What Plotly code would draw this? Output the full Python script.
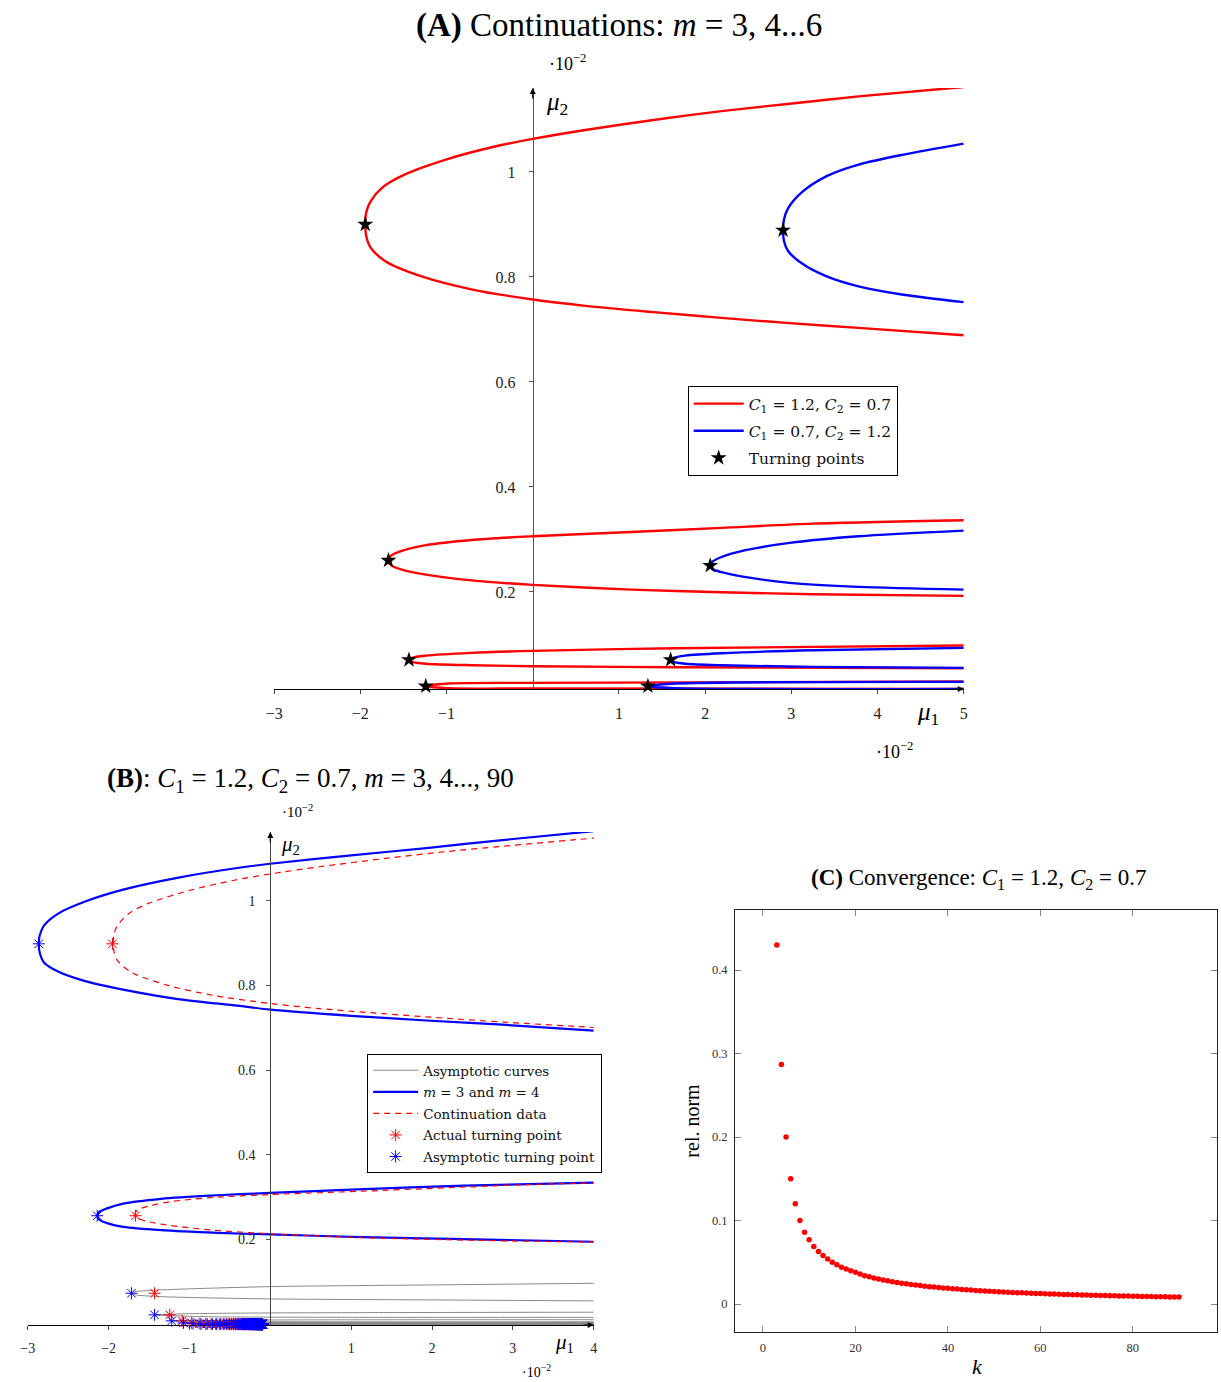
import plotly.graph_objects as go

W, H = 1221, 1382
RED = "#ff0000"
BLUE = "#0000ff"
GRAY = "#8a8a8a"
FONT = "Liberation Serif"
LEGEND_FONT = "DejaVu Serif"

# ---------------- Panel A: continuation branches (upper end -> fold -> lower end) ----------------
A_RED_M3_MU1 = [5.0, 3.78, 2.98, 2.19, 1.40, 0.61, 0.0, -0.45, -0.98, -1.50, -1.74, -1.885, -1.933, -1.943,
                -1.933, -1.885, -1.71, -1.27, -0.70, 0.0, 0.61, 1.40, 2.19, 2.98, 3.78, 5.0]
A_RED_M3_MU2 = [1.162, 1.144, 1.130, 1.116, 1.099, 1.080, 1.063, 1.048, 1.025, 0.994, 0.971, 0.943, 0.922, 0.900,
                0.879, 0.857, 0.830, 0.800, 0.776, 0.757, 0.745, 0.733, 0.722, 0.712, 0.703, 0.689]
A_BLUE_M3_MU1 = [5.0, 4.30, 3.78, 3.41, 3.12, 2.96, 2.914, 2.904, 2.914, 2.96, 3.12, 3.41, 3.78, 4.30, 5.0]
A_BLUE_M3_MU2 = [1.054, 1.033, 1.014, 0.992, 0.961, 0.930, 0.909, 0.889, 0.869, 0.850, 0.826, 0.801, 0.782, 0.766, 0.752]

A_RED_M4_MU1 = [5.0, 3.25, 2.19, 1.14, 0.0, -0.71, -1.24, -1.50, -1.64, -1.674, -1.64, -1.50, -1.24, -0.71, 0.0,
                1.14, 2.19, 3.25, 5.0]
A_RED_M4_MU2 = [0.3365, 0.330, 0.322, 0.314, 0.306, 0.299, 0.289, 0.279, 0.2695, 0.260, 0.2505, 0.2415, 0.233,
                0.222, 0.2133, 0.2044, 0.1994, 0.1956, 0.1924]
A_BLUE_M4_MU1 = [5.0, 3.78, 2.98, 2.455, 2.19, 2.085, 2.059, 2.085, 2.19, 2.455, 2.98, 3.78, 5.0]
A_BLUE_M4_MU2 = [0.3168, 0.306, 0.2933, 0.279, 0.2665, 0.2575, 0.250, 0.2435, 0.2375, 0.2286, 0.2171, 0.2095, 0.2044]

A_RED_M5_MU1 = [5.0, 1.66, 0.0, -0.71, -1.24, -1.40, -1.436, -1.40, -1.24, -0.71, 0.0, 1.66, 5.0]
A_RED_M5_MU2 = [0.0978, 0.0927, 0.0876, 0.0838, 0.0785, 0.0745, 0.0705, 0.0668, 0.0632, 0.0603, 0.0584, 0.0565, 0.0546]
A_BLUE_M5_MU1 = [5.0, 3.25, 2.19, 1.77, 1.635, 1.600, 1.635, 1.77, 2.19, 3.25, 5.0]
A_BLUE_M5_MU2 = [0.0933, 0.0889, 0.0830, 0.0785, 0.0745, 0.0705, 0.0668, 0.0632, 0.0603, 0.0571, 0.0552]

A_RED_M6_MU1 = [5.0, 0.0, -0.98, -1.241, -0.98, 0.0, 5.0]
A_RED_M6_MU2 = [0.0292, 0.0267, 0.0254, 0.0203, 0.0165, 0.0159, 0.0152]
A_BLUE_M6_MU1 = [5.0, 1.66, 1.336, 1.66, 5.0]
A_BLUE_M6_MU2 = [0.0286, 0.0254, 0.0203, 0.0165, 0.0152]

A_RED_CURVES = [(A_RED_M3_MU1, A_RED_M3_MU2), (A_RED_M4_MU1, A_RED_M4_MU2),
                (A_RED_M5_MU1, A_RED_M5_MU2), (A_RED_M6_MU1, A_RED_M6_MU2)]
A_BLUE_CURVES = [(A_BLUE_M3_MU1, A_BLUE_M3_MU2), (A_BLUE_M4_MU1, A_BLUE_M4_MU2),
                 (A_BLUE_M5_MU1, A_BLUE_M5_MU2), (A_BLUE_M6_MU1, A_BLUE_M6_MU2)]

# ---------------- Panel B: asymptotic curves for C1 = 1.2, C2 = 0.7 ----------------
B_BLUE_M3_MU1 = [4.0, 2.87, 1.93, 1.0, 0.0, -0.41, -1.12, -1.82, -2.29, -2.62, -2.80, -2.852, -2.864,
                 -2.852, -2.80, -2.62, -2.29, -1.82, -1.12, -0.41, 0.0, 1.0, 1.93, 2.87, 4.0]
B_BLUE_M3_MU2 = [1.164, 1.143, 1.124, 1.107, 1.087, 1.077, 1.055, 1.026, 0.998, 0.970, 0.941, 0.918, 0.898,
                 0.877, 0.854, 0.832, 0.810, 0.790, 0.767, 0.752, 0.7425, 0.728, 0.717, 0.707, 0.693]
B_BLUE_M4_MU1 = [4.0, 2.40, 1.0, 0.0, -0.65, -1.35, -1.82, -2.01, -2.115, -2.141, -2.115, -2.01, -1.82, -1.35,
                 -0.65, 0.0, 1.0, 2.40, 4.0]
B_BLUE_M4_MU2 = [0.334, 0.327, 0.3176, 0.3098, 0.3043, 0.2960, 0.2847, 0.2740, 0.2650, 0.2557, 0.2465, 0.2380,
                 0.2298, 0.222, 0.2157, 0.2118, 0.2063, 0.2008, 0.1945]

B_GRAY_M5_MU1 = [4.0, 1.93, 0.0, -1.35, -1.68, -1.718, -1.68, -1.35, 0.0, 1.93, 4.0]
B_GRAY_M5_MU2 = [0.0965, 0.0925, 0.0886, 0.0808, 0.0765, 0.073, 0.0695, 0.065, 0.0596, 0.0573, 0.0549]
B_GRAY_M6_MU1 = [4.0, 0.0, -0.88, -1.432, -0.88, 0.0, 4.0]
B_GRAY_M6_MU2 = [0.0282, 0.0265, 0.025, 0.022, 0.018, 0.0165, 0.016]
B_GRAY_M7_MU1 = [4.0, 0.0, -1.220, 0.0, 4.0]
B_GRAY_M7_MU2 = [0.0105, 0.0098, 0.0078, 0.0058, 0.0055]
B_GRAY_M8_MU1 = [4.0, 0.0, -1.075, 0.0, 4.0]
B_GRAY_M8_MU2 = [0.0042, 0.0038, 0.0030, 0.0024, 0.0022]

M_VALUES = list(range(3, 91))
TP_ASYMPTOTIC_MU1 = [
    -2.864, -2.141, -1.718, -1.432, -1.220, -1.075, -0.956, -0.860, -0.782, -0.717,
    -0.662, -0.614, -0.573, -0.538, -0.506, -0.478, -0.453, -0.430, -0.410, -0.391,
    -0.374, -0.358, -0.344, -0.331, -0.319, -0.307, -0.297, -0.287, -0.277, -0.269,
    -0.261, -0.253, -0.246, -0.239, -0.232, -0.226, -0.221, -0.215, -0.210, -0.205,
    -0.200, -0.195, -0.191, -0.187, -0.183, -0.179, -0.176, -0.172, -0.169, -0.165,
    -0.162, -0.159, -0.156, -0.154, -0.151, -0.148, -0.146, -0.143, -0.141, -0.139,
    -0.137, -0.134, -0.132, -0.130, -0.128, -0.126, -0.125, -0.123, -0.121, -0.119,
    -0.118, -0.116, -0.115, -0.113, -0.112, -0.110, -0.109, -0.108, -0.106, -0.105,
    -0.104, -0.102, -0.101, -0.100, -0.099, -0.098, -0.097, -0.096]
TP_ACTUAL_MU1 = [
    -1.953, -1.667, -1.432, -1.244, -1.090, -0.977, -0.880, -0.799, -0.732, -0.675,
    -0.626, -0.583, -0.546, -0.514, -0.485, -0.459, -0.436, -0.414, -0.395, -0.378,
    -0.362, -0.347, -0.334, -0.321, -0.310, -0.299, -0.289, -0.280, -0.271, -0.263,
    -0.255, -0.247, -0.240, -0.234, -0.228, -0.222, -0.216, -0.211, -0.206, -0.201,
    -0.197, -0.192, -0.188, -0.184, -0.180, -0.176, -0.173, -0.170, -0.166, -0.163,
    -0.160, -0.157, -0.155, -0.152, -0.149, -0.147, -0.144, -0.142, -0.140, -0.137,
    -0.135, -0.133, -0.131, -0.129, -0.127, -0.125, -0.124, -0.122, -0.120, -0.118,
    -0.117, -0.115, -0.114, -0.112, -0.111, -0.109, -0.108, -0.107, -0.105, -0.104,
    -0.103, -0.102, -0.100, -0.099, -0.098, -0.097, -0.096, -0.095]
TP_MU2 = [
    0.898, 0.256, 0.073, 0.022, 0.0078, 0.0030, 0.0012, 0.0005, 0.0002, 0.0001,
    0.0, 0.0, 0.0, 0.0, 0.0, 0.0, 0.0, 0.0, 0.0, 0.0,
    0.0, 0.0, 0.0, 0.0, 0.0, 0.0, 0.0, 0.0, 0.0, 0.0,
    0.0, 0.0, 0.0, 0.0, 0.0, 0.0, 0.0, 0.0, 0.0, 0.0,
    0.0, 0.0, 0.0, 0.0, 0.0, 0.0, 0.0, 0.0, 0.0, 0.0,
    0.0, 0.0, 0.0, 0.0, 0.0, 0.0, 0.0, 0.0, 0.0, 0.0,
    0.0, 0.0, 0.0, 0.0, 0.0, 0.0, 0.0, 0.0, 0.0, 0.0,
    0.0, 0.0, 0.0, 0.0, 0.0, 0.0, 0.0, 0.0, 0.0, 0.0,
    0.0, 0.0, 0.0, 0.0, 0.0, 0.0, 0.0, 0.0]

# ---------------- Panel C: relative norm between actual and asymptotic turning points ----------------
K_VALUES = list(range(3, 91))
REL_NORM = [
    0.430, 0.287, 0.200, 0.150, 0.120, 0.100, 0.086, 0.077, 0.069, 0.063,
    0.058, 0.054, 0.050, 0.047, 0.044, 0.042, 0.040, 0.038, 0.036, 0.034,
    0.0326, 0.0313, 0.0300, 0.0289, 0.0278, 0.0268, 0.0259, 0.0250, 0.0242, 0.0234,
    0.0227, 0.0221, 0.0214, 0.0208, 0.0203, 0.0197, 0.0192, 0.0188, 0.0183, 0.0179,
    0.0174, 0.0170, 0.0167, 0.0163, 0.0160, 0.0156, 0.0153, 0.0150, 0.0147, 0.0144,
    0.0142, 0.0139, 0.0136, 0.0134, 0.0132, 0.0129, 0.0127, 0.0125, 0.0123, 0.0121,
    0.0119, 0.0117, 0.0115, 0.0114, 0.0112, 0.0110, 0.0109, 0.0107, 0.0106, 0.0104,
    0.0103, 0.0101, 0.0100, 0.0099, 0.0097, 0.0096, 0.0095, 0.0094, 0.0093, 0.0091,
    0.0090, 0.0089, 0.0088, 0.0087, 0.0086, 0.0085, 0.0084, 0.0083]

# ---------------- axis ranges and layout boxes ----------------
A_X_RANGE, A_Y_RANGE = [-3, 5], [0.015, 1.16]
B_X_RANGE, B_Y_RANGE = [-3, 4], [-0.002, 1.162]
C_X_RANGE, C_Y_RANGE = [-6, 98.2], [-0.0335, 0.472]


def dom_x(p0, p1):
    return [p0 / W, p1 / W]


def dom_y(top, bottom):
    return [1 - bottom / H, 1 - top / H]


def zero_pos(dom, rng):
    return dom[0] + (0 - rng[0]) / (rng[1] - rng[0]) * (dom[1] - dom[0])


A_DX, A_DY = dom_x(268, 965), dom_y(88, 689)
B_DX, B_DY = dom_x(19, 591), dom_y(832, 1325)
C_DX, C_DY = dom_x(734, 1221), dom_y(910, 1332)

fig = go.Figure()


def add_curve(mu1, mu2, color, width, xa, ya, name=None, legend="legend", show=False,
              group=None, dash="solid"):
    fig.add_trace(go.Scatter(
        x=mu1, y=mu2, mode="lines", xaxis=xa, yaxis=ya, name=name, showlegend=show,
        legend=legend, legendgroup=group, hoverinfo="skip",
        line=dict(color=color, width=width, dash=dash, shape="spline", smoothing=0.8)))


# Panel A curves
for i, (mu1, mu2) in enumerate(A_RED_CURVES):
    add_curve(mu1, mu2, RED, 2.4, "x", "y",
              name="<i>C</i><sub>1</sub> = 1.2, <i>C</i><sub>2</sub> = 0.7",
              show=(i == 0), group="a_red")
for i, (mu1, mu2) in enumerate(A_BLUE_CURVES):
    add_curve(mu1, mu2, BLUE, 2.4, "x", "y",
              name="<i>C</i><sub>1</sub> = 0.7, <i>C</i><sub>2</sub> = 1.2",
              show=(i == 0), group="a_blue")

# fold points of each branch (vertex = leftmost point)
turn_x, turn_y = [], []
for mu1, mu2 in A_RED_CURVES + A_BLUE_CURVES:
    j = mu1.index(min(mu1))
    turn_x.append(mu1[j])
    turn_y.append(mu2[j])
fig.add_trace(go.Scatter(
    x=turn_x, y=turn_y, mode="markers", xaxis="x", yaxis="y", name="Turning points",
    legend="legend", legendgroup="a_tp", cliponaxis=False, hoverinfo="skip",
    marker=dict(symbol="star", size=12, color="black", line=dict(width=0))))

# Panel B: asymptotic curves (grey) for m >= 5
for mu1, mu2 in [(B_GRAY_M5_MU1, B_GRAY_M5_MU2), (B_GRAY_M6_MU1, B_GRAY_M6_MU2),
                 (B_GRAY_M7_MU1, B_GRAY_M7_MU2), (B_GRAY_M8_MU1, B_GRAY_M8_MU2)]:
    add_curve(mu1, mu2, GRAY, 1.0, "x2", "y2", name="Asymptotic curves", legend="legend2",
              show=(mu1 is B_GRAY_M5_MU1), group="b_gray")
gx, gy = [], []
for xm, ym in zip(TP_ASYMPTOTIC_MU1[6:], TP_MU2[6:]):
    gx += [B_X_RANGE[1], xm, B_X_RANGE[1], None]
    gy += [ym, ym, ym, None]
fig.add_trace(go.Scatter(x=gx, y=gy, mode="lines", xaxis="x2", yaxis="y2", showlegend=False,
                         legend="legend2", hoverinfo="skip", line=dict(color=GRAY, width=2.5)))

add_curve(B_BLUE_M3_MU1, B_BLUE_M3_MU2, BLUE, 2.2, "x2", "y2",
          name="<i>m</i> = 3 and <i>m</i> = 4", legend="legend2", show=True, group="b_blue")
add_curve(B_BLUE_M4_MU1, B_BLUE_M4_MU2, BLUE, 2.2, "x2", "y2", legend="legend2", group="b_blue")

# continuation data (same branches as panel A, red)
for i, (mu1, mu2) in enumerate(A_RED_CURVES[:2]):
    add_curve(mu1, mu2, RED, 1.2, "x2", "y2", name="Continuation data", legend="legend2",
              show=(i == 0), group="b_red", dash="6px,5px")

fig.add_trace(go.Scatter(
    x=TP_ACTUAL_MU1, y=TP_MU2, mode="markers", xaxis="x2", yaxis="y2", name="Actual turning point",
    legend="legend2", legendgroup="b_act", cliponaxis=False, hoverinfo="skip",
    marker=dict(symbol="asterisk-open", size=10, color=RED, line=dict(color=RED, width=1))))
fig.add_trace(go.Scatter(
    x=TP_ASYMPTOTIC_MU1, y=TP_MU2, mode="markers", xaxis="x2", yaxis="y2", name="Asymptotic turning point",
    legend="legend2", legendgroup="b_asy", cliponaxis=False, hoverinfo="skip",
    marker=dict(symbol="asterisk-open", size=10, color=BLUE, line=dict(color=BLUE, width=1))))

# Panel C: convergence
fig.add_trace(go.Scatter(
    x=K_VALUES, y=REL_NORM, mode="markers", xaxis="x3", yaxis="y3", showlegend=False,
    hoverinfo="skip", marker=dict(symbol="circle", size=5.5, color=RED, line=dict(width=0))))

MINUS = "\u2212"


def tick_text(vals):
    return [(MINUS + str(abs(v))) if v < 0 else str(v) for v in vals]


A_XTICKS = [-3, -2, -1, 1, 2, 3, 4, 5]
B_XTICKS = [-3, -2, -1, 1, 2, 3, 4]
Y_TICKS = [0.2, 0.4, 0.6, 0.8, 1.0]
Y_TICKTEXT = ["0.2", "0.4", "0.6", "0.8", "1"]
C_XTICKS = [0, 20, 40, 60, 80]
C_YTICKS = [0, 0.1, 0.2, 0.3, 0.4]

common = dict(showgrid=False, zeroline=False, fixedrange=True)

fig.update_layout(
    width=W, height=H, autosize=False,
    margin=dict(l=0, r=0, t=0, b=0),
    paper_bgcolor="white", plot_bgcolor="white",
    font=dict(family=FONT, color="black"),
    xaxis=dict(domain=A_DX, range=A_X_RANGE, anchor="y", showline=True, linecolor="black", linewidth=1.2,
               ticks="outside", ticklen=4, tickcolor="#444", tickvals=A_XTICKS, ticktext=tick_text(A_XTICKS),
               tickfont=dict(family=FONT, size=16, color="#222"), ticklabelstandoff=6, **common),
    yaxis=dict(domain=A_DY, range=A_Y_RANGE, anchor="free", position=zero_pos(A_DX, A_X_RANGE),
               showline=True, linecolor="#555", linewidth=1.2, ticks="outside", ticklen=4, tickcolor="#555",
               tickvals=Y_TICKS, ticktext=Y_TICKTEXT, tickfont=dict(family=FONT, size=16, color="#222"),
               ticklabelstandoff=10, **common),
    xaxis2=dict(domain=B_DX, range=B_X_RANGE, anchor="y2", showline=True, linecolor="black", linewidth=1.2,
                ticks="outside", ticklen=4, tickcolor="#444", tickvals=B_XTICKS, ticktext=tick_text(B_XTICKS),
                tickfont=dict(family=FONT, size=14, color="#222"), ticklabelstandoff=6,
                layer="below traces", **common),
    yaxis2=dict(domain=B_DY, range=B_Y_RANGE, anchor="free", position=zero_pos(B_DX, B_X_RANGE),
                showline=True, linecolor="#444", linewidth=1.2, ticks="outside", ticklen=4, tickcolor="#555",
                tickvals=Y_TICKS, ticktext=Y_TICKTEXT, tickfont=dict(family=FONT, size=14, color="#222"),
                ticklabelstandoff=8, **common),
    xaxis3=dict(domain=C_DX, range=C_X_RANGE, anchor="y3", showline=True, linecolor="#222", linewidth=1.2,
                mirror="ticks", ticks="inside", ticklen=6, tickcolor="#888", tickvals=C_XTICKS,
                tickfont=dict(family=FONT, size=12.5, color="#333"), ticklabelstandoff=4, **common),
    yaxis3=dict(domain=C_DY, range=C_Y_RANGE, anchor="x3", showline=True, linecolor="#222", linewidth=1.2,
                mirror="ticks", ticks="inside", ticklen=6, tickcolor="#888", tickvals=C_YTICKS,
                ticktext=["0", "0.1", "0.2", "0.3", "0.4"],
                tickfont=dict(family=FONT, size=12.5, color="#333"), ticklabelstandoff=4, **common),
    legend=dict(x=686 / W, y=1 - 386 / H, xanchor="left", yanchor="top", bgcolor="white",
                bordercolor="black", borderwidth=1, font=dict(family=LEGEND_FONT, size=15.5, color="#111"),
                traceorder="grouped", tracegroupgap=4, itemwidth=50),
    legend2=dict(x=362 / W, y=1 - 1054 / H, xanchor="left", yanchor="top", bgcolor="white",
                 bordercolor="black", borderwidth=1, font=dict(family=LEGEND_FONT, size=13.5, color="#111"),
                 traceorder="grouped", tracegroupgap=1, itemwidth=45),
)


def label(text, px_x, px_y, size, **kw):
    return dict(text=text, x=px_x / W, y=1 - px_y / H, xref="paper", yref="paper", showarrow=False,
                xanchor="center", yanchor="middle", font=dict(family=FONT, size=size, color="black"), **kw)


def arrow(xref, yref, x, y, ax, ay):
    return dict(text="", x=x, y=y, xref=xref, yref=yref, ax=ax, ay=ay, showarrow=True,
                arrowhead=2, arrowsize=1, arrowwidth=1.2, arrowcolor="black")


TEN_M2 = "\u00b710<sup>" + MINUS + "2</sup>"
annotations = [
    label("<b>(A)</b> Continuations: <i>m</i> = 3, 4...6", 617, 25, 33),
    label(TEN_M2, 565, 62, 18),
    label("<i>\u03bc</i><sub>2</sub>", 554, 104, 25),
    label("<i>\u03bc</i><sub>1</sub>", 929, 713, 25),
    label(TEN_M2, 895, 750, 18),
    label("<b>(B)</b>: <i>C</i><sub>1</sub> = 1.2, <i>C</i><sub>2</sub> = 0.7, <i>m</i> = 3, 4..., 90",
          305, 780, 27),
    label(TEN_M2, 292, 811, 15),
    label("<i>\u03bc</i><sub>2</sub>", 285, 845, 21),
    label("<i>\u03bc</i><sub>1</sub>", 561, 1343, 21),
    label(TEN_M2, 533, 1371, 14),
    label("<b>(C)</b> Convergence: <i>C</i><sub>1</sub> = 1.2, <i>C</i><sub>2</sub> = 0.7", 980, 879, 23),
    label("rel. norm", 690, 1121, 20, textangle=-90),
    label("<i>k</i>", 979, 1366, 22),
    arrow("x", "y", A_X_RANGE[1], A_Y_RANGE[0], -12, 0),
    arrow("x", "y", 0, A_Y_RANGE[1], 0, 12),
    arrow("x2", "y2", B_X_RANGE[1], B_Y_RANGE[0], -12, 0),
    arrow("x2", "y2", 0, B_Y_RANGE[1], 0, 12),
]
fig.update_layout(annotations=annotations)

fig.write_html("out.html")
